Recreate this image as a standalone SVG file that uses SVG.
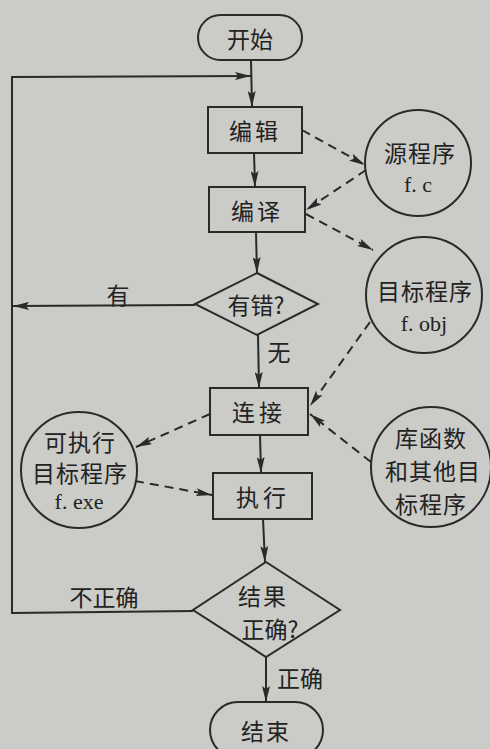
<svg xmlns="http://www.w3.org/2000/svg" width="490" height="749" viewBox="0 0 490 749">
<defs>
<marker id="ah" viewBox="0 0 16 8" refX="16" refY="4" markerWidth="16" markerHeight="8" markerUnits="userSpaceOnUse" orient="auto">
<path d="M0,0 L16,4 L0,8 L3,4 Z" fill="#2a2a2a"/>
</marker>
</defs>
<style>
.shape{fill:none;stroke:#2a2a2a;stroke-width:2}
.line{fill:none;stroke:#2a2a2a;stroke-width:2;marker-end:url(#ah)}
.dash{fill:none;stroke:#2a2a2a;stroke-width:2;stroke-dasharray:9,6;marker-end:url(#ah)}
.cn{font-family:"Noto Sans CJK SC","Noto Sans",sans-serif;font-size:23px;fill:#222;text-anchor:middle;dominant-baseline:central}
.lat{font-family:"Liberation Serif",serif;font-size:22px;fill:#222;text-anchor:middle;dominant-baseline:central}
</style>
<rect x="0" y="0" width="490" height="749" fill="#cbcbc8"/>
<g id="connectors">
<path class="line" d="M251,60 L252,107"/>
<path class="line" d="M254,153 L255,187"/>
<path class="line" d="M256,232 L257,273"/>
<path class="line" d="M258,335 L259,388"/>
<path class="line" d="M260,435 L261,473"/>
<path class="line" d="M263,519 L265,562"/>
<path class="line" d="M266,657 L266,702"/>
<path class="line" d="M195,305 L13,306"/>
<path class="line" d="M193,611 L12,613 L12,77 L251,76"/>
<path class="dash" d="M302,130 L365,165"/>
<path class="dash" d="M366,170 L306,210"/>
<path class="dash" d="M306,214 L373,250"/>
<path class="dash" d="M370,322 L310,406"/>
<path class="dash" d="M371,462 L310,414"/>
<path class="dash" d="M210,414 L136,447"/>
<path class="dash" d="M135,481 L212,495"/>
</g>
<g id="start">
<rect class="shape" x="198" y="15" width="104" height="45" rx="22.5"/>
<text class="cn" x="250" y="38">开始</text>
</g>
<g id="edit">
<rect class="shape" x="208" y="107" width="94" height="46"/>
<text class="cn" x="255" y="130" letter-spacing="3">编辑</text>
</g>
<g id="compile">
<rect class="shape" x="209" y="187" width="96" height="45"/>
<text class="cn" x="257" y="210" letter-spacing="3">编译</text>
</g>
<g id="source">
<circle class="shape" cx="418" cy="163" r="53"/>
<text class="cn" x="420" y="152" font-size="25" letter-spacing="1">源程序</text>
<text class="lat" x="418" y="184">f. c</text>
</g>
<g id="haserror">
<path class="shape" d="M257,273 L318,304 L257,335 L195,304 Z"/>
<text class="cn" x="256" y="304" font-size="24">有错?</text>
</g>
<text class="cn" x="118" y="294">有</text>
<text class="cn" x="279" y="351">无</text>
<g id="object">
<circle class="shape" cx="424" cy="295" r="58"/>
<text class="cn" x="425" y="290" font-size="25" letter-spacing="1">目标程序</text>
<text class="lat" x="424" y="323">f. obj</text>
</g>
<g id="link">
<rect class="shape" x="210" y="388" width="98" height="47"/>
<text class="cn" x="259" y="411" font-size="24" letter-spacing="4">连接</text>
</g>
<g id="library">
<circle class="shape" cx="431" cy="467" r="60"/>
<text class="cn" x="431" y="437" font-size="24" letter-spacing="1">库函数</text>
<text class="cn" x="433" y="470" font-size="24" letter-spacing="1">和其他目</text>
<text class="cn" x="431" y="503" font-size="24" letter-spacing="1">标程序</text>
</g>
<g id="exe">
<circle class="shape" cx="79" cy="470" r="58"/>
<text class="cn" x="80" y="441" letter-spacing="1">可执行</text>
<text class="cn" x="80" y="472" letter-spacing="1">目标程序</text>
<text class="lat" x="79" y="501">f. exe</text>
</g>
<g id="run">
<rect class="shape" x="213" y="473" width="99" height="46"/>
<text class="cn" x="263" y="496" font-size="24" letter-spacing="4">执行</text>
</g>
<g id="correct">
<path class="shape" d="M266,562 L340,610 L266,657 L193,610 Z"/>
<text class="cn" x="263" y="595" font-size="22" letter-spacing="2">结果</text>
<text class="cn" x="270" y="628" font-size="22">正确?</text>
</g>
<text class="cn" x="104" y="596">不正确</text>
<text class="cn" x="300" y="677">正确</text>
<g id="end">
<rect class="shape" x="210" y="702" width="113" height="56" rx="28"/>
<text class="cn" x="266" y="730" font-size="24" letter-spacing="2">结束</text>
</g>
</svg>
